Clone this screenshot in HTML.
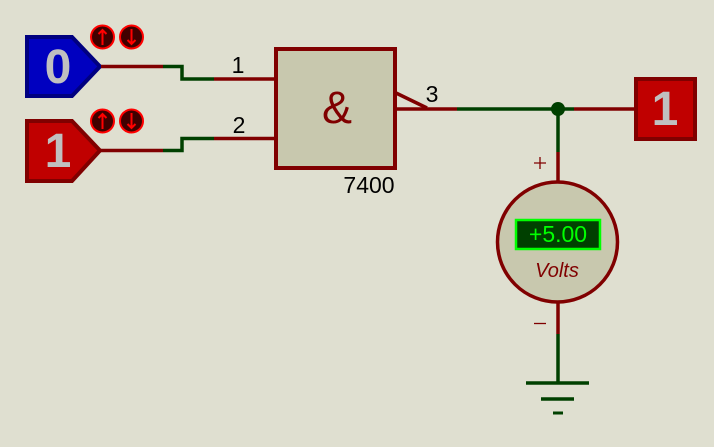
<!DOCTYPE html>
<html><head><meta charset="utf-8"><style>
html,body{margin:0;padding:0;background:#dfdfd0;}
svg{display:block;}
text{font-family:"Liberation Sans",Arial,sans-serif;}
</style></head><body>
<svg width="714" height="447" viewBox="0 0 714 447" xmlns="http://www.w3.org/2000/svg">
<rect width="714" height="447" fill="#dfdfd0"/>

<!-- Logic state 0 (blue) -->
<polygon points="27,37 72,37 100,66.5 72,96 27,96" fill="#0000c0" stroke="#000080" stroke-width="4" stroke-linejoin="miter"/>
<text x="58" y="83" font-size="48" font-weight="bold" fill="#c0c0c0" text-anchor="middle">0</text>

<!-- Logic state 1 (red) -->
<polygon points="27,121 72,121 100,150.5 72,181 27,181" fill="#c00000" stroke="#800000" stroke-width="4"/>
<text x="58" y="167" font-size="48" font-weight="bold" fill="#c0c0c0" text-anchor="middle">1</text>

<!-- toggle buttons -->
<g stroke="#ff0000" stroke-width="2" fill="#400000">
<circle cx="102.5" cy="37" r="11.5"/>
<circle cx="131.5" cy="37" r="11.5"/>
<circle cx="102.5" cy="121" r="11.5"/>
<circle cx="131.5" cy="121" r="11.5"/>
</g>
<g stroke="#ff0000" stroke-width="2" fill="none">
<path d="M102.5,45 V30 M98.5,34 L102.5,30 L106.5,34"/>
<path d="M131.5,29 V44 M127.5,40 L131.5,44 L135.5,40"/>
<path d="M102.5,129 V114 M98.5,118 L102.5,114 L106.5,118"/>
<path d="M131.5,113 V128 M127.5,124 L131.5,128 L135.5,124"/>
</g>

<!-- Wires input 1 -->
<g stroke-width="3.5" fill="none">
<path d="M101,66.5 H163" stroke="#800000"/>
<path d="M163,66.5 H182 V79 H214" stroke="#004000"/>
<path d="M214,79 H276" stroke="#800000"/>
<path d="M101,150.5 H163" stroke="#800000"/>
<path d="M163,150.5 H182 V138.5 H214" stroke="#004000"/>
<path d="M214,138.5 H276" stroke="#800000"/>
</g>
<text x="238" y="73" font-size="23" fill="#000" text-anchor="middle">1</text>
<text x="239" y="133" font-size="23" fill="#000" text-anchor="middle">2</text>

<!-- Gate -->
<rect x="276" y="49" width="119" height="119" fill="#c8c8ae" stroke="#800000" stroke-width="4"/>
<text x="337" y="123" font-size="45" fill="#800000" text-anchor="middle">&amp;</text>
<text x="369" y="193" font-size="23" fill="#000" text-anchor="middle">7400</text>

<!-- output -->
<g stroke-width="3.5" fill="none">
<path d="M395,109 H457" stroke="#800000"/>
<path d="M396,93 L427,108" stroke="#800000"/>
<path d="M457,109 H574" stroke="#004000"/>
<path d="M574,109 H636" stroke="#800000"/>
<path d="M558,109 V152" stroke="#004000"/>
<path d="M558,152 V183" stroke="#800000"/>
<path d="M558,302 V334" stroke="#800000"/>
<path d="M558,334 V383" stroke="#004000"/>
</g>
<text x="432" y="102" font-size="23" fill="#000" text-anchor="middle">3</text>
<circle cx="558" cy="109" r="7" fill="#004000"/>

<!-- output probe -->
<rect x="636" y="79" width="59" height="60" fill="#c00000" stroke="#800000" stroke-width="4"/>
<text x="665" y="125" font-size="48" font-weight="bold" fill="#c0c0c0" text-anchor="middle">1</text>

<!-- Voltmeter -->
<g stroke="#800000" stroke-width="1.3">
<path d="M534,163 H546 M540,157 V169"/>
<path d="M534,323.5 H546"/>
</g>
<circle cx="557.5" cy="242" r="60" fill="#c8c8ae" stroke="#800000" stroke-width="3.5"/>
<rect x="516" y="220" width="84" height="29" fill="#004000" stroke="#00ff00" stroke-width="2.5"/>
<text x="558" y="242" font-size="23" fill="#00ff00" text-anchor="middle">+5.00</text>
<text x="557" y="277" font-size="20" font-style="italic" fill="#800000" text-anchor="middle">Volts</text>

<!-- ground -->
<g stroke="#004000" fill="none">
<path d="M526,383 H589" stroke-width="3.5"/>
<path d="M541,399 H574" stroke-width="3.5"/>
<path d="M553,413 H563" stroke-width="3"/>
</g>
</svg>
</body></html>
